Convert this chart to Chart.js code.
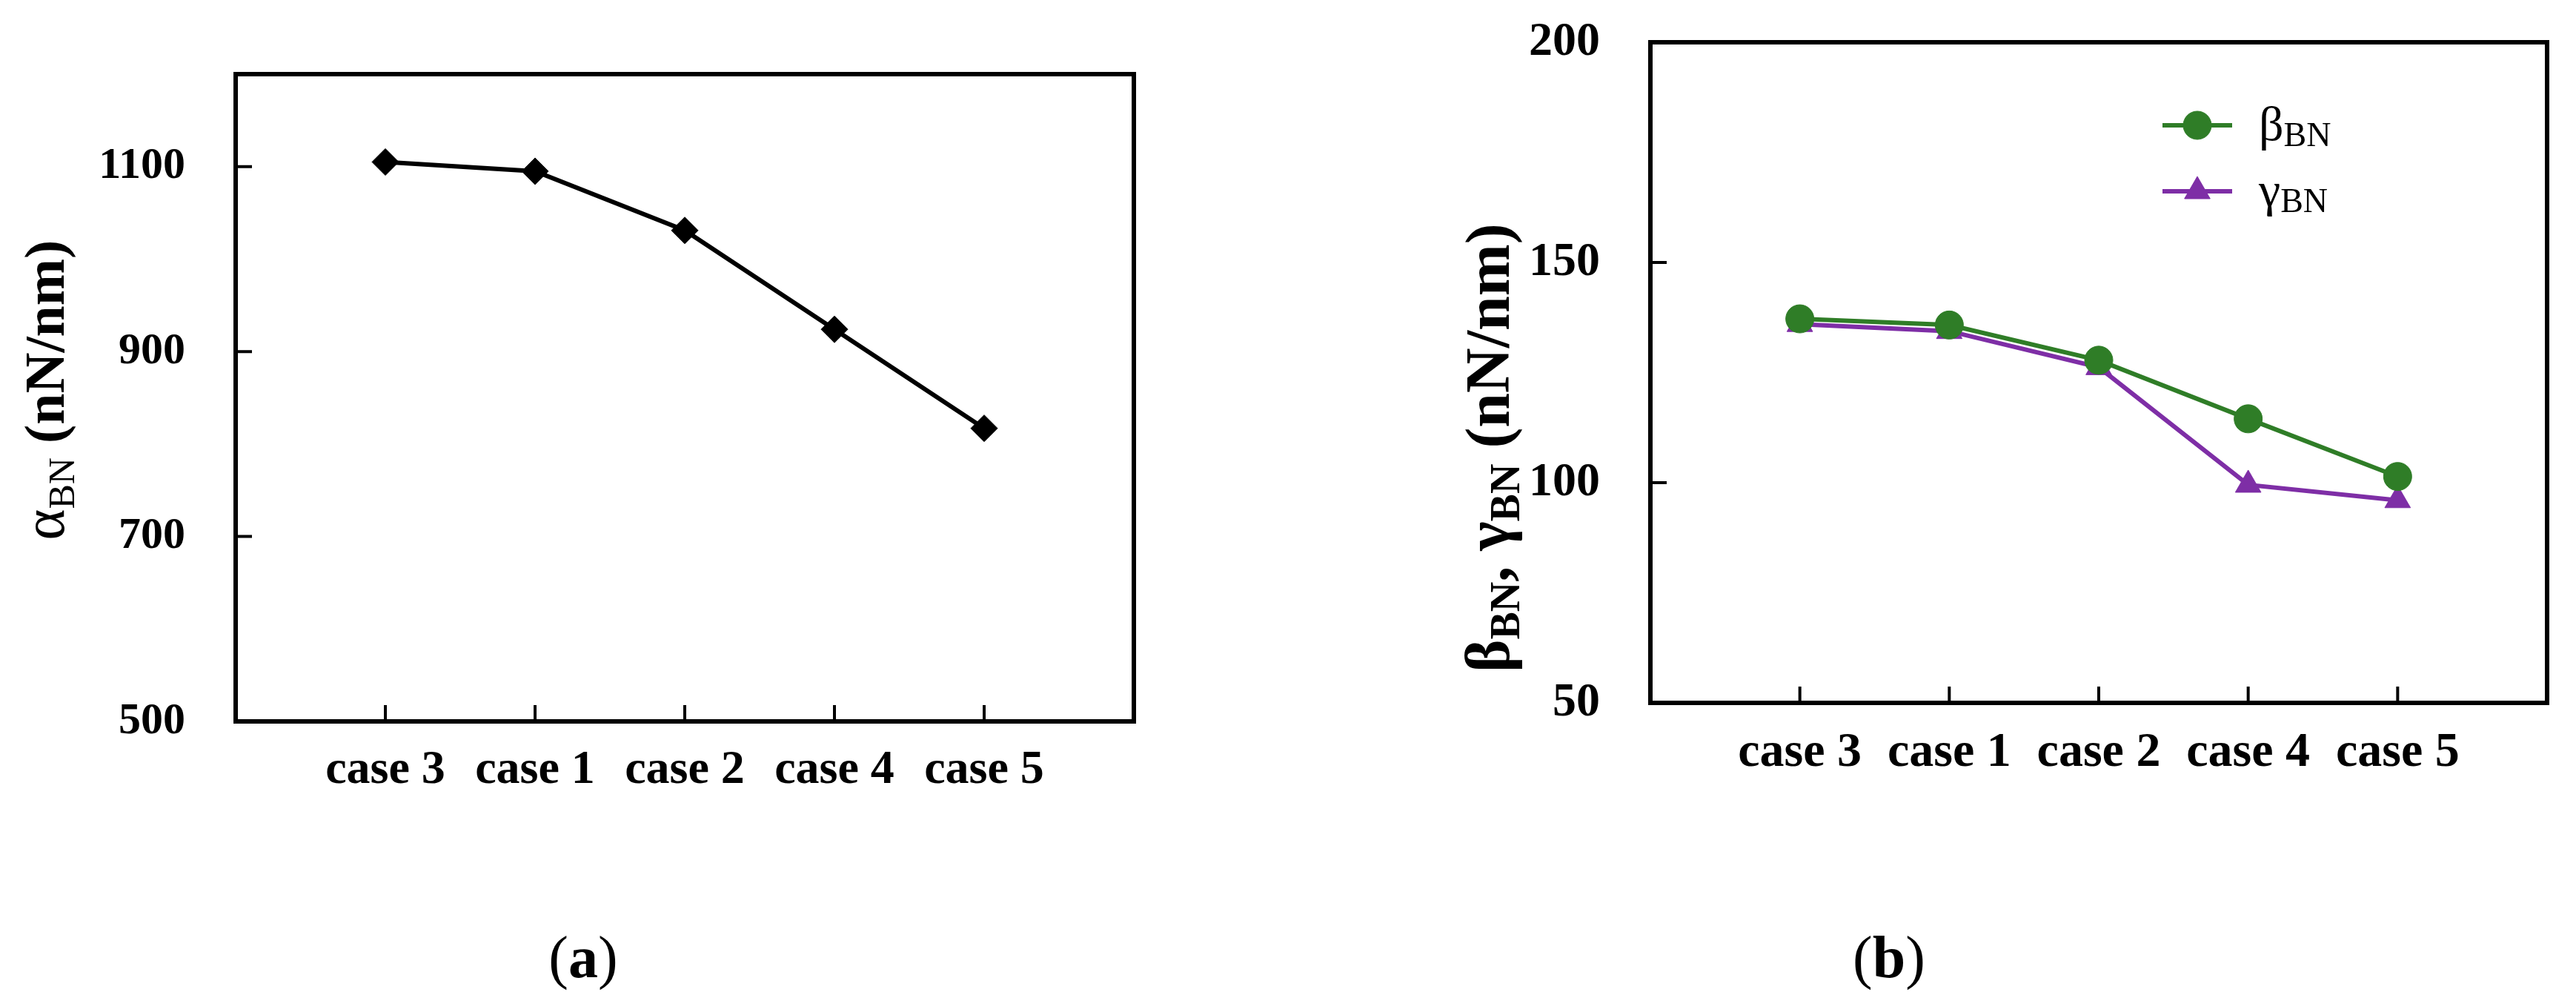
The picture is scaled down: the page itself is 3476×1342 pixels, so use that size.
<!DOCTYPE html>
<html>
<head>
<meta charset="utf-8">
<script src="https://cdn.jsdelivr.net/npm/chart.js@4.4.1/dist/chart.umd.min.js"></script>
<style>
  html, body { margin: 0; padding: 0; background: #fff; }
  #wrap { position: relative; width: 3476px; height: 1342px; overflow: hidden; }
  canvas { position: absolute; top: 0; }
</style>
</head>
<body>
<div id="wrap">
  <canvas id="chartA" width="1738" height="1342" style="left:0"></canvas>
  <canvas id="chartB" width="1738" height="1342" style="left:1738px"></canvas>
</div>
<script>
const cases = ["case 3", "case 1", "case 2", "case 4", "case 5"];
const alphaBN = [1105, 1095, 1031, 924, 817];
const betaBN = [137.2, 135.8, 127.8, 114.5, 101.4];
const gammaBN = [136.0, 134.4, 126.2, 99.5, 96.0];
const ticksA = [500, 700, 900, 1100];
const ticksB = [50, 100, 150, 200];

const SERIF = '"Liberation Serif", "DejaVu Serif", serif';
const GREEN = "#2f7d27";
const PURPLE = "#7e2ea6";

function toPoints(values) {
  return values.map((v, i) => ({ x: i + 1, y: v }));
}

function runsWidth(ctx, runs) {
  return runs.reduce((w, r) => {
    ctx.font = r.font;
    return w + ctx.measureText(r.t).width;
  }, 0);
}

function drawRuns(ctx, runs, x, y) {
  runs.forEach((r) => {
    ctx.font = r.font;
    ctx.fillText(r.t, x, y + (r.dy || 0));
    x += ctx.measureText(r.t).width;
  });
}

// frame, inward ticks, rotated title, caption and the legend for panel b
const decorPlugin = {
  id: "decor",
  beforeDatasetsDraw(chart, args, opts) {
    const { ctx, chartArea: a } = chart;
    const xs = chart.scales.x, ys = chart.scales.y;
    ctx.save();
    ctx.strokeStyle = "#000";
    ctx.lineWidth = 6;
    ctx.strokeRect(a.left, a.top, a.right - a.left, a.bottom - a.top);
    ctx.lineWidth = 4;
    ctx.beginPath();
    xs.ticks.forEach((t) => {
      const px = xs.getPixelForValue(t.value);
      ctx.moveTo(px, a.bottom);
      ctx.lineTo(px, a.bottom - 22);
    });
    ys.ticks.forEach((t) => {
      const py = ys.getPixelForValue(t.value);
      ctx.moveTo(a.left, py);
      ctx.lineTo(a.left + 22, py);
    });
    ctx.stroke();
    ctx.restore();
  },
  afterDraw(chart, args, opts) {
    const { ctx } = chart;
    ctx.save();
    ctx.fillStyle = "#000";
    ctx.textBaseline = "alphabetic";

    // y axis title
    const tw = runsWidth(ctx, opts.title);
    ctx.save();
    ctx.translate(opts.titleX, opts.titleY);
    ctx.rotate(-Math.PI / 2);
    drawRuns(ctx, opts.title, -tw / 2, 26);
    ctx.restore();

    // caption
    const cw = runsWidth(ctx, opts.caption);
    drawRuns(ctx, opts.caption, opts.captionX - cw / 2, opts.captionY + 28);

    // legend
    if (opts.legend) {
      const L = opts.legend;
      chart.data.datasets.forEach((ds, i) => {
        const y = L.y + i * L.gap;
        ctx.strokeStyle = ds.borderColor;
        ctx.lineWidth = ds.borderWidth;
        ctx.beginPath();
        ctx.moveTo(L.x1, y);
        ctx.lineTo(L.x2, y);
        ctx.stroke();
        ctx.fillStyle = ds.backgroundColor;
        ctx.strokeStyle = ds.backgroundColor;
        ctx.lineWidth = 1;
        Chart.helpers.drawPoint(ctx, {
          pointStyle: ds.pointStyle,
          radius: ds.pointRadius,
          rotation: 0,
          borderWidth: 1,
        }, (L.x1 + L.x2) / 2, y);
        ctx.fillStyle = "#000";
        drawRuns(ctx, L.labels[i], L.textX, y + 20);
      });
    }
    ctx.restore();
  },
};

function makeChart(id, box, datasets, yMin, yMax, yTicks, fonts, decor) {
  const canvas = document.getElementById(id);
  return new Chart(canvas, {
    type: "line",
    data: { datasets },
    options: {
      responsive: false,
      animation: false,
      devicePixelRatio: 1,
      layout: { padding: { left: 0, top: box.top, right: canvas.width - box.right, bottom: 0 } },
      plugins: { legend: { display: false }, tooltip: { enabled: false }, decor },
      scales: {
        x: {
          type: "linear",
          min: 0,
          max: 6,
          grid: { display: false, drawTicks: false },
          border: { display: false },
          afterBuildTicks: (axis) => { axis.ticks = cases.map((c, i) => ({ value: i + 1 })); },
          afterFit: (s) => {
            s.height = canvas.height - box.bottom;
            s.paddingLeft = 0;
            s.paddingRight = 0;
          },
          ticks: {
            autoSkip: false,
            maxRotation: 0,
            padding: 28,
            color: "#000",
            font: { family: SERIF, size: fonts.x, weight: "bold" },
            callback: (v) => cases[v - 1] || "",
          },
        },
        y: {
          min: yMin,
          max: yMax,
          grid: { display: false, drawTicks: false },
          border: { display: false },
          afterBuildTicks: (axis) => { axis.ticks = yTicks.map((v) => ({ value: v })); },
          afterFit: (s) => {
            s.width = box.left;
            s.paddingTop = 0;
            s.paddingBottom = 0;
          },
          ticks: {
            padding: 68,
            color: "#000",
            font: { family: SERIF, size: fonts.y, weight: "bold" },
            callback: (v) => String(v),
          },
        },
      },
    },
    plugins: [decorPlugin],
  });
}

makeChart(
  "chartA",
  { left: 318, right: 1530, top: 100, bottom: 973 },
  [{
    data: toPoints(alphaBN),
    borderColor: "#000",
    backgroundColor: "#000",
    borderWidth: 6,
    pointStyle: "rectRot",
    pointRadius: 18,
    pointBorderWidth: 1,
    tension: 0,
  }],
  500, 1200, ticksA,
  { x: 64, y: 60 },
  {
    title: [
      { t: "α", font: `80px ${SERIF}` },
      { t: "BN", font: `50px ${SERIF}`, dy: 14 },
      { t: " (nN/nm)", font: `bold 76px ${SERIF}` },
    ],
    titleX: 60, titleY: 526,
    caption: [
      { t: "(", font: `80px ${SERIF}` },
      { t: "a", font: `bold 80px ${SERIF}` },
      { t: ")", font: `80px ${SERIF}` },
    ],
    captionX: 787, captionY: 1290,
  }
);

makeChart(
  "chartB",
  { left: 489, right: 1699, top: 57, bottom: 948 },
  [
    {
      data: toPoints(betaBN),
      borderColor: GREEN,
      backgroundColor: GREEN,
      borderWidth: 6,
      pointStyle: "circle",
      pointRadius: 19,
      pointBorderWidth: 1,
      tension: 0,
    },
    {
      data: toPoints(gammaBN),
      borderColor: PURPLE,
      backgroundColor: PURPLE,
      borderWidth: 6,
      pointStyle: "triangle",
      pointRadius: 20,
      pointBorderWidth: 1,
      tension: 0,
    },
  ],
  50, 200, ticksB,
  { x: 66, y: 64 },
  {
    title: [
      { t: "β", font: `bold 84px ${SERIF}` },
      { t: "BN", font: `bold 56px ${SERIF}`, dy: 14 },
      { t: ", ", font: `bold 84px ${SERIF}` },
      { t: "γ", font: `bold 84px ${SERIF}` },
      { t: "BN", font: `bold 56px ${SERIF}`, dy: 14 },
      { t: " (nN/nm)", font: `bold 84px ${SERIF}` },
    ],
    titleX: 272, titleY: 604,
    caption: [
      { t: "(", font: `80px ${SERIF}` },
      { t: "b", font: `bold 80px ${SERIF}` },
      { t: ")", font: `80px ${SERIF}` },
    ],
    captionX: 811, captionY: 1290,
    legend: {
      x1: 1180, x2: 1274, y: 169, gap: 89, textX: 1310,
      labels: [
        [{ t: "β", font: `66px ${SERIF}` }, { t: "BN", font: `46px ${SERIF}`, dy: 8 }],
        [{ t: "γ", font: `66px ${SERIF}` }, { t: "BN", font: `46px ${SERIF}`, dy: 8 }],
      ],
    },
  }
);
</script>
</body>
</html>
